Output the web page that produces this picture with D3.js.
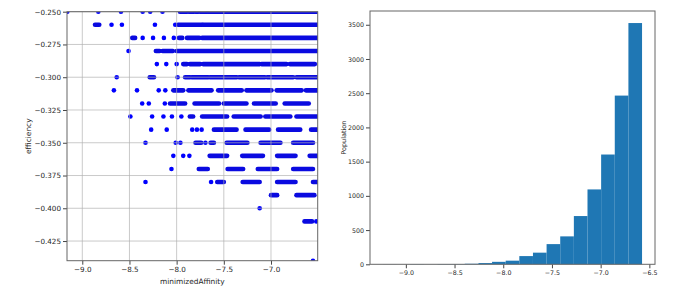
<!DOCTYPE html>
<html>
<head>
<meta charset="utf-8">
<script src='https://d3js.org/d3.v7.min.js'></script>
<style>
 body {margin:0; background:#fff;}
 text {font-family: "DejaVu Sans", sans-serif; fill:#262626;}
</style>
</head>
<body onload='init()'>
<svg></svg>
<script>

// efficiency levels (one row of points each)
var efficiencyRows = [-0.25,-0.26,-0.27,-0.28,-0.29,-0.30,-0.31,-0.32,-0.33,-0.34,
                      -0.35,-0.36,-0.37,-0.38,-0.39,-0.40,-0.41,-0.44];

// minimizedAffinity runs per row: [from, to] (a single point when from == to)
var affinitySpans = [
  [[-9.159,-9.159],[-8.83,-8.83],[-8.59,-8.59],[-8.36,-8.36],[-8.28,-8.28],[-8.15,-8.15],[-7.965,-7.89],[-7.87,-7.82],[-7.80,-7.77],[-7.75,-7.68],[-7.67,-6.50]],
  [[-8.865,-8.82],[-8.69,-8.69],[-8.58,-8.58],[-8.23,-8.23],[-8.015,-8.015],[-7.985,-7.73],[-7.72,-6.50]],
  [[-8.47,-8.44],[-8.36,-8.36],[-8.25,-8.25],[-8.135,-8.135],[-8.03,-8.03],[-7.975,-7.94],[-7.89,-7.76],[-7.73,-6.50]],
  [[-8.51,-8.51],[-8.22,-8.18],[-8.15,-8.04],[-8.00,-6.50]],
  [[-8.21,-8.21],[-8.11,-8.11],[-8.00,-8.00],[-7.93,-7.89],[-7.86,-7.75],[-7.72,-7.12],[-7.10,-6.835],[-6.80,-6.535]],
  [[-8.635,-8.635],[-8.285,-8.24],[-7.99,-7.99],[-7.91,-7.86],[-7.84,-7.665],[-7.645,-7.365],[-7.34,-7.065],[-7.04,-6.765],[-6.73,-6.50]],
  [[-8.665,-8.665],[-8.42,-8.42],[-8.19,-8.19],[-8.12,-8.12],[-8.035,-7.93],[-7.875,-7.63],[-7.56,-7.31],[-7.26,-6.995],[-6.94,-6.675],[-6.63,-6.50]],
  [[-8.365,-8.365],[-8.295,-8.295],[-8.125,-8.125],[-8.07,-7.91],[-7.81,-7.55],[-7.50,-7.26],[-7.18,-6.95],[-6.855,-6.60]],
  [[-8.49,-8.49],[-8.26,-8.26],[-8.14,-8.14],[-8.05,-8.05],[-7.95,-7.95],[-7.86,-7.825],[-7.73,-7.465],[-7.395,-7.11],[-7.06,-6.795],[-6.73,-6.50]],
  [[-8.27,-8.27],[-8.105,-8.105],[-7.835,-7.835],[-7.785,-7.785],[-7.735,-7.735],[-7.605,-7.365],[-7.27,-7.02],[-6.925,-6.69],[-6.575,-6.50]],
  [[-8.33,-8.33],[-8.01,-8.01],[-7.96,-7.96],[-7.80,-7.74],[-7.695,-7.695],[-7.64,-7.605],[-7.47,-7.25],[-7.11,-6.90],[-6.765,-6.555]],
  [[-8.035,-8.035],[-7.93,-7.93],[-7.865,-7.865],[-7.65,-7.465],[-7.305,-7.085],[-6.935,-6.74],[-6.59,-6.50]],
  [[-8.055,-8.055],[-7.765,-7.67],[-7.46,-7.295],[-7.14,-6.935],[-6.765,-6.555]],
  [[-8.33,-8.33],[-7.635,-7.635],[-7.57,-7.50],[-7.30,-7.12],[-6.935,-6.74],[-6.555,-6.50]],
  [[-7.00,-6.935],[-6.73,-6.54]],
  [[-7.12,-7.12]],
  [[-6.645,-6.565],[-6.52,-6.52]],
  [[-6.555,-6.555]]
];

// histogram of minimizedAffinity
var binEdges = [-9.235,-9.095,-8.955,-8.815,-8.675,-8.535,-8.395,-8.255,-8.115,-7.975,
                -7.835,-7.695,-7.555,-7.415,-7.275,-7.135,-6.995,-6.855,-6.715,-6.575];
var populationCounts = [1,0,3,1,4,4,8,18,36,53,120,170,295,408,705,1094,1604,2465,3525];

var scatterXTicks = [-9.0,-8.5,-8.0,-7.5,-7.0];
var scatterYTicks = [-0.25,-0.275,-0.30,-0.325,-0.35,-0.375,-0.40,-0.425];
var histXTicks = [-9.0,-8.5,-8.0,-7.5,-7.0,-6.5];
var histYTicks = [0,500,1000,1500,2000,2500,3000,3500];

function init() {
  var svg = d3.select("svg").attr("width",679).attr("height",291);

  // ---------- left: scatter ----------
  var L = {left:67, right:317.7, top:11.7, bottom:260.7};
  var x = d3.scaleLinear().domain([-9.162,-6.505]).range([L.left,L.right]);
  var y = d3.scaleLinear().domain([-0.44,-0.25]).range([L.bottom,L.top]);

  svg.append("clipPath").attr("id","clipL").append("rect")
     .attr("x",L.left).attr("y",L.top).attr("width",L.right-L.left).attr("height",L.bottom-L.top);

  var spans = [];
  efficiencyRows.forEach(function(e,i) {
    affinitySpans[i].forEach(function(s) { spans.push({e:e, a0:s[0], a1:s[1]}); });
  });

  svg.append("g").attr("clip-path","url(#clipL)")
    .selectAll("line").data(spans).enter().append("line")
      .attr("x1", function(d) {return x(d.a0);})
      .attr("x2", function(d) {return x(d.a1);})
      .attr("y1", function(d) {return y(d.e);})
      .attr("y2", function(d) {return y(d.e);})
      .attr("stroke", function(d) {return d.a1 > d.a0 ? "#0a0ae0" : "#0000ff";})
      .attr("stroke-width",4.6)
      .attr("stroke-linecap","round");

  // grid on top of the points
  var grid = svg.append("g").attr("stroke","#b0b0b0").attr("stroke-width",0.8).attr("stroke-opacity",0.85);
  grid.selectAll(".gx").data(scatterXTicks).enter().append("line")
      .attr("x1",function(d){return x(d);}).attr("x2",function(d){return x(d);})
      .attr("y1",L.top).attr("y2",L.bottom);
  grid.selectAll(".gy").data(scatterYTicks).enter().append("line")
      .attr("y1",function(d){return y(d);}).attr("y2",function(d){return y(d);})
      .attr("x1",L.left).attr("x2",L.right);

  var ax = svg.append("g").attr("transform","translate(0,"+L.bottom+")")
     .call(d3.axisBottom(x).tickValues(scatterXTicks).tickFormat(d3.format(".1f")).tickSize(4).tickPadding(2));
  var ay = svg.append("g").attr("transform","translate("+L.left+",0)")
     .call(d3.axisLeft(y).tickValues(scatterYTicks).tickFormat(d3.format(".3f")).tickSize(4).tickPadding(2));
  [ax,ay].forEach(function(g) {
    g.select(".domain").remove();
    g.selectAll("text").attr("font-size",7.2).attr("font-family","DejaVu Sans").attr("fill","#262626");
    g.selectAll("line").attr("stroke","#444");
  });

  svg.append("rect").attr("x",L.left).attr("y",L.top)
     .attr("width",L.right-L.left).attr("height",L.bottom-L.top)
     .attr("fill","none").attr("stroke","#666").attr("stroke-width",1);

  svg.append("text").attr("x",(L.left+L.right)/2).attr("y",284)
     .attr("text-anchor","middle").attr("font-size",7.4).text("minimizedAffinity");
  svg.append("text").attr("transform","translate(31,"+((L.top+L.bottom)/2)+") rotate(-90)")
     .attr("text-anchor","middle").attr("font-size",7.4).text("efficiency");

  // ---------- right: histogram ----------
  var R = {left:370, right:655, top:11, bottom:264.3};
  var hx = d3.scaleLinear().domain([-9.368,-6.442]).range([R.left,R.right]);
  var hy = d3.scaleLinear().domain([0,3701]).range([R.bottom,R.top]);

  var bins = populationCounts.map(function(c,i) { return {x0:binEdges[i], x1:binEdges[i+1], n:c}; });
  svg.append("g").selectAll("rect").data(bins).enter().append("rect")
      .attr("x", function(d) {return hx(d.x0);})
      .attr("width", function(d) {return hx(d.x1)-hx(d.x0);})
      .attr("y", function(d) {return hy(d.n);})
      .attr("height", function(d) {return hy(0)-hy(d.n);})
      .attr("fill","#1f77b4");

  var hax = svg.append("g").attr("transform","translate(0,"+R.bottom+")")
     .call(d3.axisBottom(hx).tickValues(histXTicks).tickFormat(d3.format(".1f")).tickSize(4).tickPadding(2));
  var hay = svg.append("g").attr("transform","translate("+R.left+",0)")
     .call(d3.axisLeft(hy).tickValues(histYTicks).tickFormat(d3.format("d")).tickSize(4).tickPadding(2));
  [hax,hay].forEach(function(g) {
    g.select(".domain").remove();
    g.selectAll("text").attr("font-size",6.3).attr("font-family","DejaVu Sans").attr("fill","#262626");
    g.selectAll("line").attr("stroke","#444");
  });

  svg.append("rect").attr("x",R.left).attr("y",R.top)
     .attr("width",R.right-R.left).attr("height",R.bottom-R.top)
     .attr("fill","none").attr("stroke","#666").attr("stroke-width",1);

  svg.append("text").attr("transform","translate(346,"+((R.top+R.bottom)/2)+") rotate(-90)")
     .attr("text-anchor","middle").attr("font-size",6.5).text("Population");
}

</script>
</body>
</html>
